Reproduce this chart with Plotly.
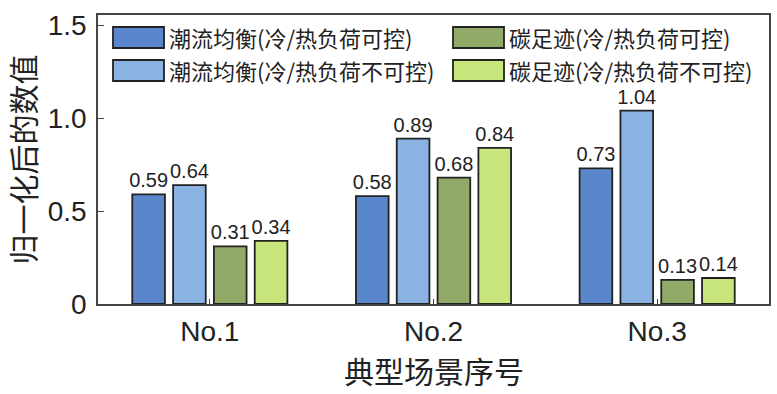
import plotly.graph_objects as go

categories = ["No.1", "No.2", "No.3"]
series_names = [
    "潮流均衡(冷/热负荷可控)",
    "潮流均衡(冷/热负荷不可控)",
    "碳足迹(冷/热负荷可控)",
    "碳足迹(冷/热负荷不可控)",
]
flow_ctrl = [0.59, 0.58, 0.73]
flow_unctrl = [0.64, 0.89, 1.04]
carbon_ctrl = [0.31, 0.68, 0.13]
carbon_unctrl = [0.34, 0.84, 0.14]
y_tickvals = [0, 0.5, 1.0, 1.5]
y_ticktext = ["0", "0.5", "1.0", "1.5"]
x_title = "典型场景序号"
y_title = "归一化后的数值"

colors = ["#5a87cb", "#8ab2e3", "#91aa67", "#c9e67d"]
series = [flow_ctrl, flow_unctrl, carbon_ctrl, carbon_unctrl]

NUM_FONT = "Liberation Sans, Arial, sans-serif"
CJK_FONT = "Noto Sans CJK SC, sans-serif"

fig = go.Figure()
for name, vals, col in zip(series_names, series, colors):
    fig.add_trace(go.Bar(
        x=categories, y=vals, name=name,
        marker=dict(color=col, line=dict(color="#222222", width=1.8)),
        text=[f"{v:.2f}" for v in vals], textposition="outside",
        constraintext="none",
        textfont=dict(family=NUM_FONT, size=20, color="#222222"),
        cliponaxis=False, showlegend=False,
    ))

# custom legend (wide swatches) in paper coordinates
L, R, T, B = 98, 769, 15, 304
W, H = R - L, B - T
def px(x):
    return (x - L) / W
def py(y):
    return (B - y) / H

legend_pos = [(113, 27), (113, 60), (453, 27), (453, 60)]
shapes = []
annotations = []
for (x0, y0), name, col in zip(legend_pos, series_names, colors):
    shapes.append(dict(type="rect", xref="paper", yref="paper",
                       x0=px(x0), x1=px(x0 + 51), y0=py(y0 + 21), y1=py(y0),
                       fillcolor=col, line=dict(color="#222222", width=1.8)))
    annotations.append(dict(xref="paper", yref="paper", x=px(x0 + 54), y=py(y0 + 10.5),
                            text=name, showarrow=False, xanchor="left", yanchor="middle",
                            font=dict(family=CJK_FONT, size=22, color="#222222")))

# axis titles
annotations.append(dict(xref="paper", yref="paper", x=0.5, y=py(370),
                        text=x_title, showarrow=False, xanchor="center", yanchor="middle",
                        font=dict(family=CJK_FONT, size=30, color="#222222")))
annotations.append(dict(xref="paper", yref="paper", x=px(21), y=0.5,
                        text=y_title, showarrow=False, xanchor="center", yanchor="middle",
                        textangle=-90,
                        font=dict(family=CJK_FONT, size=30, color="#222222")))

fig.update_layout(
    width=777, height=394,
    margin=dict(l=L, r=777 - R, t=T, b=394 - B),
    paper_bgcolor="white", plot_bgcolor="white",
    barmode="group", bargap=0.27, bargroupgap=0.2,
    shapes=shapes, annotations=annotations,
    xaxis=dict(
        automargin=False,
        showline=True, linecolor="#444444", linewidth=1.5, mirror=True,
        ticks="inside", ticklen=5, tickcolor="#444444",
        ticklabelstandoff=2,
        tickfont=dict(family=NUM_FONT, size=28, color="#222222"),
        showgrid=False,
    ),
    yaxis=dict(
        automargin=False,
        range=[0, 1.555],
        showline=True, linecolor="#444444", linewidth=1.5, mirror=True,
        ticks="inside", ticklen=6, tickcolor="#444444",
        tickvals=y_tickvals, ticktext=y_ticktext,
        ticklabelstandoff=4,
        tickfont=dict(family=NUM_FONT, size=28, color="#222222"),
        showgrid=False, zeroline=False,
    ),
)

fig.write_html("out.html", config={"displayModeBar": False},
               post_script="document.body.style.margin='0';document.body.style.overflow='hidden';")
